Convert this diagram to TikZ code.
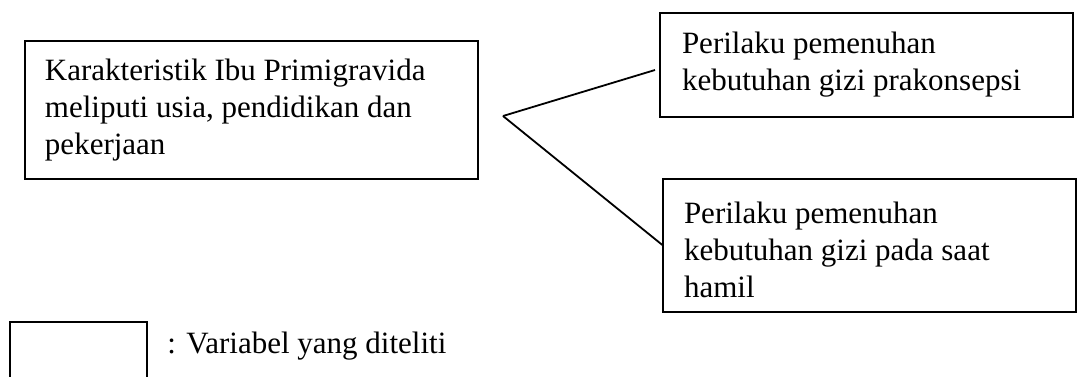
\documentclass[tikz,border=0pt]{standalone}
\usepackage{fontspec}
\setmainfont{Liberation Serif}
\usetikzlibrary{calc}
\begin{document}
\begin{tikzpicture}[x=0.5pt,y=-0.5pt,
  varbox/.style={draw, line width=1pt, outer sep=0pt, anchor=north west, align=flush left,
    font=\fontsize{15.5pt}{18.5pt}\selectfont, inner ysep=4pt},
  conn/.style={line width=0.9pt}]
\clip (0,0) rectangle (1077,376);
\fill[white] (0,0) rectangle (1077,376);
\node[varbox, inner xsep=10pt, text width=206.5pt, minimum height=69pt] (A) at (25,41)
  {Karakteristik Ibu Primigravida\\meliputi usia, pendidikan dan\\pekerjaan};
\node[varbox, inner xsep=11pt, text width=184.5pt, minimum height=52pt] (B) at (660,13)
  {Perilaku pemenuhan\\kebutuhan gizi prakonsepsi};
\node[varbox, inner xsep=10.5pt, text width=185.5pt, minimum height=66.5pt] (C) at (663,179)
  {\rule{0pt}{15pt}Perilaku pemenuhan\\kebutuhan gizi pada saat\\hamil};
\node[varbox, minimum width=68.5pt, minimum height=40pt] (L) at (10,322) {};
\node[anchor=base west, inner sep=0pt, font=\fontsize{15.5pt}{18.5pt}\selectfont] (LT) at (167,353) {: Variabel yang diteliti};
\coordinate (J) at (503,116);
\draw[conn] (J) -- ($(B.west)+(-5,5)$);
\draw[conn] (J) -- (C.west);
\end{tikzpicture}
\end{document}
